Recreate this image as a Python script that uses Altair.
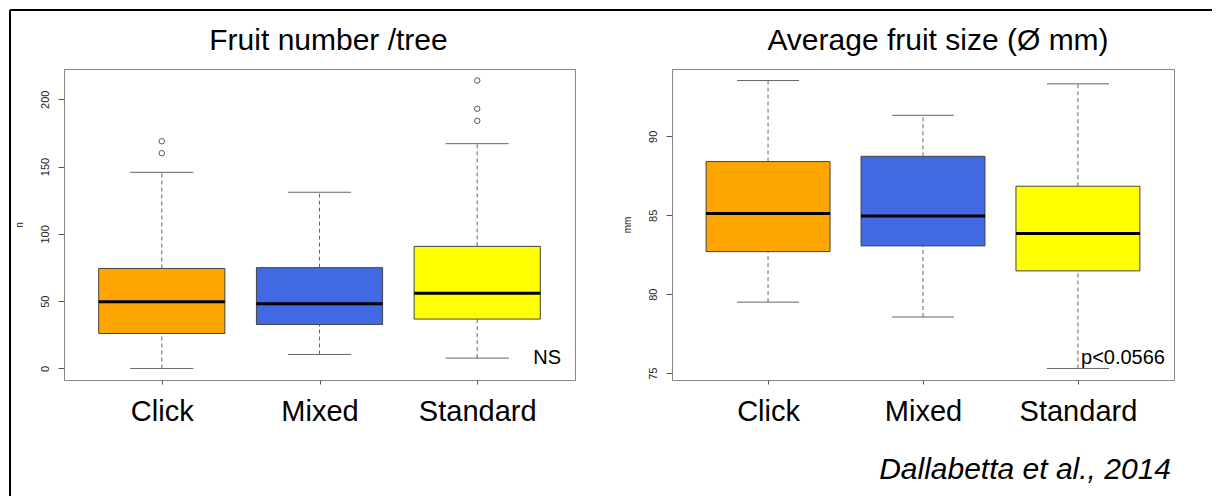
import altair as alt
import pandas as pd

FONT = "Liberation Sans"

groups = ["Click", "Mixed", "Standard"]
box_colors = ["#FFA500", "#4169E1", "#FFFF00"]

# Fruit number / tree
num_min = [0.0, 10.4, 7.7]
num_q1 = [26.0, 32.7, 36.7]
num_med = [49.6, 48.1, 55.8]
num_q3 = [74.3, 74.9, 90.7]
num_max = [145.7, 130.9, 167.0]
num_out_group = ["Click", "Click", "Standard", "Standard", "Standard"]
num_out_value = [168.8, 159.9, 213.9, 192.9, 183.9]
num_ticks = [0, 50, 100, 150, 200]

# Average fruit size (mm)
size_min = [79.5, 78.56, 75.3]
size_q1 = [82.7, 83.06, 81.48]
size_med = [85.11, 84.96, 83.84]
size_q3 = [88.4, 88.73, 86.84]
size_max = [93.53, 91.33, 93.32]
size_out_group = []
size_out_value = []
size_ticks = [75, 80, 85, 90]

H = 311


def panel(title, mins, q1s, meds, q3s, maxs, out_groups, out_vals, ticks,
          ylab, note, width, title_dx, note_dx, extra=None):
    n = len(groups)
    df = pd.DataFrame({"group": groups, "pos": list(range(1, n + 1)),
                       "lo": mins, "q1": q1s, "med": meds, "q3": q3s, "hi": maxs})
    all_vals = list(mins) + list(maxs) + list(out_vals)
    lo, hi = min(all_vals), max(all_vals)
    ext = 0.04 * (hi - lo)
    yscale = alt.Scale(domain=[lo - ext, hi + ext], nice=False, zero=False)
    xscale = alt.Scale(domain=[0.5 - 0.04 * n, n + 0.5 + 0.04 * n], nice=False, zero=False)
    label_expr = "[" + ",".join("'%s'" % g for g in groups) + "][datum.value - 1]"
    xaxis = alt.Axis(values=list(range(1, n + 1)), labelExpr=label_expr, labelFontSize=29,
                     labelFont=FONT, labelColor="black", tickSize=4, tickColor="#555",
                     labelPadding=13, domain=False, grid=False, title=None,
                     labelFlush=False, labelOverlap=False)
    yaxis = alt.Axis(values=ticks, labelAngle=270, labelAlign="center", labelBaseline="bottom",
                     labelFontSize=11, labelFont=FONT, labelColor="#222", labelPadding=8,
                     tickSize=6, tickColor="#555", domain=False, grid=False,
                     title=ylab, titleFontSize=10, titleFont=FONT, titleFontWeight="normal",
                     titleAngle=270, titleX=-45, titleY=H / 2, titleAlign="center",
                     titleBaseline="middle", titleColor="#222")

    base = alt.Chart(df).transform_calculate(
        bl="datum.pos - 0.4", br="datum.pos + 0.4",
        cl="datum.pos - 0.2", cr="datum.pos + 0.2")

    wup = base.mark_rule(color="#666", strokeDash=[4, 3], strokeWidth=1).encode(
        x=alt.X("pos:Q", scale=xscale, axis=xaxis),
        y=alt.Y("q3:Q", scale=yscale, axis=yaxis), y2="hi:Q")
    wdn = base.mark_rule(color="#666", strokeDash=[4, 3], strokeWidth=1).encode(
        x="pos:Q", y="lo:Q", y2="q1:Q")
    chi = base.mark_rule(color="#666", strokeWidth=1).encode(x="cl:Q", x2="cr:Q", y="hi:Q")
    clo = base.mark_rule(color="#666", strokeWidth=1).encode(x="cl:Q", x2="cr:Q", y="lo:Q")
    box = base.mark_rect(stroke="#444", strokeWidth=1).encode(
        x="bl:Q", x2="br:Q", y="q1:Q", y2="q3:Q",
        color=alt.Color("group:N", scale=alt.Scale(domain=groups, range=box_colors), legend=None))
    med = base.mark_rule(color="black", strokeWidth=3).encode(x="bl:Q", x2="br:Q", y="med:Q")

    layers = [wup, wdn, chi, clo, box, med]
    if out_vals:
        out_df = pd.DataFrame({"group": out_groups,
                               "pos": [groups.index(g) + 1 for g in out_groups],
                               "val": out_vals})
        layers.append(alt.Chart(out_df).mark_point(shape="circle", filled=False, color="#555",
                                                   size=30, strokeWidth=1, opacity=1).encode(
            x="pos:Q", y="val:Q"))

    ttl = alt.Chart(pd.DataFrame({"t": [title]})).mark_text(
        font=FONT, fontSize=30, align="center", baseline="alphabetic", color="black").encode(
        text="t:N", x=alt.value(width / 2 + title_dx), y=alt.value(-19))
    nt = alt.Chart(pd.DataFrame({"t": [note]})).mark_text(
        font=FONT, fontSize=20, align="right", baseline="alphabetic", color="black").encode(
        text="t:N", x=alt.value(width - note_dx), y=alt.value(295))
    layers += [ttl, nt]
    if extra:
        layers += extra
    return alt.layer(*layers).properties(width=width, height=H)


frame_df = pd.DataFrame({"k": [0]})
frame_v = alt.Chart(frame_df).mark_rule(color="black", strokeWidth=2).encode(
    x=alt.value(-54), y=alt.value(-59), y2=alt.value(427))
frame_h = alt.Chart(frame_df).mark_rule(color="black", strokeWidth=2).encode(
    x=alt.value(-54), x2=alt.value(1148), y=alt.value(-59))

cite = alt.Chart(pd.DataFrame({"t": ["Dallabetta et al., 2014"]})).mark_text(
    font=FONT, fontSize=30, fontStyle="italic", align="right", baseline="alphabetic",
    color="black").encode(text="t:N", x=alt.value(499), y=alt.value(410))

left = panel("Fruit number /tree", num_min, num_q1, num_med, num_q3, num_max,
             num_out_group, num_out_value, num_ticks, "n", "NS", 511, 9, 14,
             extra=[frame_v, frame_h])
right = panel("Average fruit size (Ø mm)", size_min, size_q1, size_med, size_q3, size_max,
              size_out_group, size_out_value, size_ticks, "mm", "p<0.0566", 502, 15, 9,
              extra=[cite])

chart = alt.hconcat(left, right, spacing=97, bounds="flush").properties(
    padding={"left": 0, "top": 0, "right": 0, "bottom": 0}
).configure_view(stroke="#888", strokeWidth=1).configure_axis(labelFont=FONT, titleFont=FONT)

chart.save("out.html", embed_options={"renderer": "svg", "actions": False})
